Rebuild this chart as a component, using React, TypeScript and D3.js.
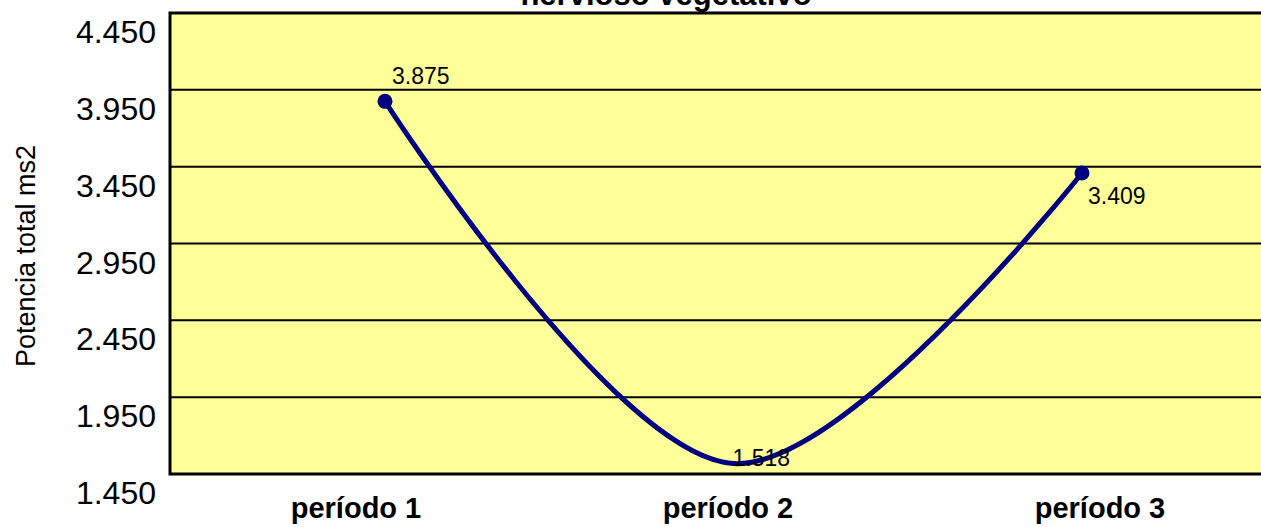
import React from "react";
import * as d3 from "d3";

// values
const categories = ["período 1", "período 2", "período 3"];
const values = [3.875, 1.518, 3.409];
const valueLabels = ["3.875", "1.518", "3.409"];
const yTicks = [1.45, 1.95, 2.45, 2.95, 3.45, 3.95, 4.45];

const width = 1261;
const height = 527;
// the plot area runs past the right edge of the picture
const plot = { left: 170, top: 13, right: 1286, bottom: 474 };

// label placement per point (relative to the marker), and points without a marker
const labelOffsets: [number, number][] = [
  [7, -17],
  [-1, 2],
  [6, 31],
];
const hiddenMarkers = [1];

const fmt = (v: number) => v.toFixed(3);

export default function App() {
  const y = d3.scaleLinear().domain([1.45, 4.45]).range([plot.bottom, plot.top]);
  const xBand = d3.scaleBand().domain(categories).range([plot.left, plot.right]);
  const xPoint = d3.scalePoint().domain(categories).range([385, 1082]);
  const edge = width + 20;

  const line = d3
    .line<number>()
    .x((_, i) => xPoint(categories[i]) as number)
    .y((d) => y(d))
    .curve(d3.curveCatmullRom.alpha(0.5));

  return (
    <div style={{ position: "absolute", left: 0, top: 0, width, height, overflow: "hidden" }}>
      <svg
        width={width + 40}
        height={height}
        style={{ display: "block", background: "#fff" }}
        fontFamily="Liberation Sans, Arial, sans-serif"
      >
        {/* title, cut off at the top as in the reference */}
        <text x={666} y={5} textAnchor="middle" fontSize={31} fontWeight="bold" fill="#000">
          nervioso vegetativo
        </text>

        {/* plot area */}
        <rect
          x={plot.left}
          y={plot.top}
          width={edge - plot.left}
          height={plot.bottom - plot.top}
          fill="#FFFF99"
        />
        {yTicks.map((t) => (
          <line
            key={t}
            x1={plot.left}
            x2={edge}
            y1={y(t)}
            y2={y(t)}
            stroke="#000"
            strokeWidth={2}
          />
        ))}
        <path
          d={`M${edge},${plot.top}H${plot.left}V${plot.bottom}H${edge}`}
          fill="none"
          stroke="#000"
          strokeWidth={3}
        />

        {/* y tick labels */}
        {yTicks.map((t) => (
          <text key={t} x={156} y={y(t) + 30} textAnchor="end" fontSize={32} fill="#000">
            {fmt(t)}
          </text>
        ))}

        {/* y axis title */}
        <text
          transform="translate(35,256) rotate(-90)"
          textAnchor="middle"
          fontSize={27}
          fill="#000"
        >
          Potencia total ms2
        </text>

        {/* category labels */}
        {categories.map((c) => (
          <text
            key={c}
            x={(xBand(c) as number) + xBand.bandwidth() / 2}
            y={518}
            textAnchor="middle"
            fontSize={29}
            fontWeight="bold"
            fill="#000"
          >
            {c}
          </text>
        ))}

        {/* series */}
        <path d={line(values) || ""} fill="none" stroke="#000080" strokeWidth={5} />
        {values.map((v, i) =>
          hiddenMarkers.includes(i) ? null : (
            <circle key={i} cx={xPoint(categories[i])} cy={y(v)} r={7.5} fill="#000080" />
          )
        )}
        {values.map((v, i) => (
          <text
            key={i}
            x={(xPoint(categories[i]) as number) + labelOffsets[i][0]}
            y={y(v) + labelOffsets[i][1]}
            fontSize={23}
            fill="#000"
          >
            {valueLabels[i]}
          </text>
        ))}
      </svg>
    </div>
  );
}
